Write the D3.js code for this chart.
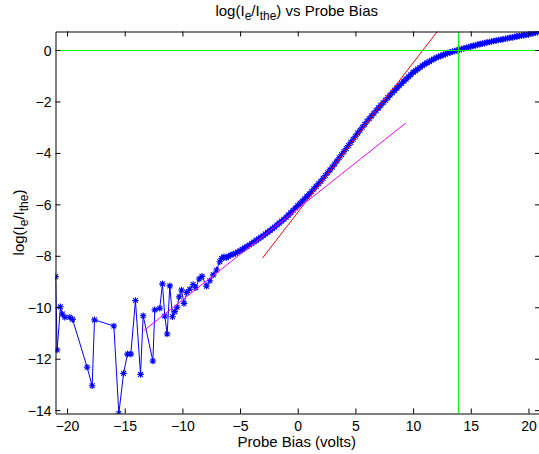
<!DOCTYPE html>
<html>
<head>
<meta charset="utf-8">
<script src="https://cdn.jsdelivr.net/npm/d3@7/dist/d3.min.js"></script>
<style>
  html, body { margin: 0; padding: 0; background: #fff; }
  svg { display: block; font-family: "Liberation Sans", Arial, sans-serif; }
</style>
</head>
<body>
<svg id="chart" width="539" height="454"></svg>
<script>
// ---- data ----
const biasVolts = [
  -21.0,-20.86,-20.57,-20.4,-20.19,-19.76,-19.52,-18.26,-17.82,-17.62,-15.94,-15.51,-15.1,-14.76,-14.47,-14.07,-13.63,-13.4,-12.56,-12.39,-11.96,-11.73,-11.53,-11.32,-11.09,-10.86,-10.66,-10.46,-10.28,-10.08,-9.86,-9.62,-9.36,-9.07,-8.84,-8.55,-8.3,-7.91,-7.62,-7.33,-7.04,-6.76,
  -6.6,-6.4,-6.2,-6.0,-5.8,-5.6,-5.4,-5.2,-5.0,-4.8,-4.6,-4.4,-4.2,-4.0,-3.8,-3.6,-3.4,-3.2,-3.0,-2.8,-2.6,-2.4,-2.2,-2.0,-1.8,-1.6,-1.4,-1.2,-1.0,-0.8,-0.6,-0.4,-0.2,0.0,
  0.2,0.4,0.6,0.8,1.0,1.2,1.4,1.6,1.8,2.0,2.2,2.4,2.6,2.8,3.0,3.2,3.4,3.6,3.8,4.0,4.2,4.4,4.6,4.8,5.0,5.2,5.4,5.6,5.8,6.0,6.2,6.4,6.6,6.8,7.0,7.2,7.4,7.6,7.8,8.0,8.2,8.4,8.6,8.8,9.0,9.2,9.4,9.6,9.8,10.0,
  10.2,10.4,10.6,10.8,11.0,11.2,11.4,11.6,11.8,12.0,12.2,12.4,12.6,12.8,13.0,13.2,13.4,13.6,13.8,14.0,14.2,14.4,14.6,14.8,15.0,15.2,15.4,15.6,15.8,16.0,16.2,16.4,16.6,16.8,17.0,17.2,17.4,17.6,17.8,18.0,18.2,18.4,18.6,18.8,19.0,19.2,19.4,19.6,19.8,20.0,20.2,20.4,20.6,20.8,21.0
];
const logRatio = [
  -8.81,-11.66,-9.98,-10.26,-10.39,-10.39,-10.47,-12.33,-13.05,-10.49,-10.73,-14.13,-12.57,-11.82,-11.82,-9.74,-12.61,-10.33,-12.09,-10.1,-10.04,-9.09,-10.34,-11.04,-9.17,-10.37,-10.17,-10.0,-9.59,-9.33,-9.85,-9.42,-9.3,-9.12,-9.24,-8.9,-8.8,-9.18,-8.97,-8.74,-8.55,-8.23,
  -8.10,-8.04,-8.07,-8.02,-7.97,-7.94,-7.90,-7.85,-7.80,-7.75,-7.69,-7.64,-7.58,-7.52,-7.46,-7.40,-7.34,-7.28,-7.22,-7.15,-7.08,-7.02,-6.95,-6.88,-6.80,-6.73,-6.65,-6.58,-6.50,-6.41,-6.32,-6.23,-6.14,-6.05,
  -5.96,-5.87,-5.78,-5.69,-5.60,-5.50,-5.40,-5.30,-5.20,-5.10,-4.99,-4.88,-4.77,-4.66,-4.55,-4.43,-4.31,-4.19,-4.07,-3.95,-3.83,-3.71,-3.59,-3.47,-3.35,-3.23,-3.12,-3.00,-2.89,-2.77,-2.67,-2.56,-2.46,-2.35,-2.25,-2.15,-2.05,-1.95,-1.85,-1.75,-1.66,-1.57,-1.48,-1.39,-1.30,-1.21,-1.13,-1.04,-0.96,-0.87,
  -0.81,-0.74,-0.68,-0.61,-0.55,-0.50,-0.45,-0.40,-0.35,-0.30,-0.26,-0.23,-0.19,-0.16,-0.12,-0.09,-0.07,-0.04,-0.02,0.01,0.04,0.06,0.09,0.11,0.14,0.16,0.18,0.21,0.23,0.25,0.27,0.29,0.31,0.33,0.35,0.37,0.39,0.40,0.42,0.44,0.46,0.48,0.49,0.51,0.53,0.55,0.56,0.58,0.59,0.61,0.63,0.65,0.67,0.69,0.72
];
// linear fits drawn over the data
const electronFitX = [-3.06, 12.2];
const electronFitY = [-8.09, 0.78];
const ionFitX = [-13.35, 9.36];
const ionFitY = [-10.91, -2.84];
// reference lines
const zeroLevel = 0;
const plasmaPotential = 13.92;
// tick labels
const xTicks = [-20, -15, -10, -5, 0, 5, 10, 15, 20];
const yTicks = [0, -2, -4, -6, -8, -10, -12, -14];

// ---- layout ----
const svg = d3.select("#chart");
const L = 55.5, R = 540, T = 31.5, B = 413.5;
const x = d3.scaleLinear().domain(d3.extent(biasVolts)).range([L, R]);
const y = d3.scaleLinear().domain(d3.extent(logRatio)).range([B, T]);

svg.append("defs").append("clipPath").attr("id", "clip")
  .append("rect").attr("x", L).attr("y", T).attr("width", R - L).attr("height", B - T);

const plot = svg.append("g").attr("clip-path", "url(#clip)");
const pts = biasVolts.map((v, i) => [v, logRatio[i]]);

const line = d3.line().x(d => x(d[0])).y(d => y(d[1]));
plot.append("path").datum(pts).attr("d", line)
  .attr("fill", "none").attr("stroke", "#0000ff").attr("stroke-width", 1);

const s = 3.3, d2 = 2.4;
const star = `M${-s},0H${s}M0,${-s}V${s}M${-d2},${-d2}L${d2},${d2}M${-d2},${d2}L${d2},${-d2}`;
plot.append("g").selectAll("path").data(pts).join("path")
  .attr("transform", d => `translate(${x(d[0])},${y(d[1])})`)
  .attr("d", star).attr("fill", "none").attr("stroke", "#0000ff").attr("stroke-width", 1.1);

function seg(xs, ys, color) {
  plot.append("path").datum(xs.map((v, i) => [v, ys[i]])).attr("d", line)
    .attr("fill", "none").attr("stroke", color).attr("stroke-width", 1);
}
seg(electronFitX, electronFitY, "#ff0000");
seg(ionFitX, ionFitY, "#ff00ff");

plot.append("line").attr("x1", L).attr("x2", R)
  .attr("y1", Math.round(y(zeroLevel)) + 0.5).attr("y2", Math.round(y(zeroLevel)) + 0.5)
  .attr("stroke", "#00ff00").attr("stroke-width", 1);
plot.append("line").attr("y1", T).attr("y2", B)
  .attr("x1", Math.round(x(plasmaPotential)) + 0.5).attr("x2", Math.round(x(plasmaPotential)) + 0.5)
  .attr("stroke", "#00ff00").attr("stroke-width", 1);

// ---- axes ----
const fmt = v => (v < 0 ? "\u2212" + Math.abs(v) : String(v));
const tl = 5;
const gx = svg.append("g").attr("transform", `translate(0,${B})`)
  .call(d3.axisBottom(x).tickValues(xTicks).tickFormat(fmt).tickSizeInner(-tl).tickSizeOuter(0).tickPadding(8));
const gxt = svg.append("g").attr("transform", `translate(0,${T})`)
  .call(d3.axisTop(x).tickValues(xTicks).tickFormat("").tickSizeInner(-tl).tickSizeOuter(0));
const gy = svg.append("g").attr("transform", `translate(${L},0)`)
  .call(d3.axisLeft(y).tickValues(yTicks).tickFormat(fmt).tickSizeInner(-tl).tickSizeOuter(0).tickPadding(4));
const gyr = svg.append("g").attr("transform", `translate(${R},0)`)
  .call(d3.axisRight(y).tickValues(yTicks).tickFormat("").tickSizeInner(-tl).tickSizeOuter(0));

[gx, gxt, gy, gyr].forEach(g => {
  g.select(".domain").attr("stroke", "#000").attr("stroke-width", 1);
  g.selectAll(".tick line").attr("stroke", "#000");
  g.selectAll("text").attr("font-size", 14).attr("fill", "#000")
    .attr("font-family", '"Liberation Sans", Arial, sans-serif');
});
gy.selectAll("text").attr("dy", "0.36em");

// ---- titles ----
const title = svg.append("text").attr("x", (L + R) / 2 - 1).attr("y", 16)
  .attr("text-anchor", "middle").attr("font-size", 15).attr("fill", "#000");
title.append("tspan").text("log(I");
title.append("tspan").attr("font-size", 12).attr("dy", 4).text("e");
title.append("tspan").attr("dy", -4).text("/I");
title.append("tspan").attr("font-size", 12).attr("dy", 4).text("the");
title.append("tspan").attr("dy", -4).text(") vs Probe Bias");

svg.append("text").attr("x", (L + R) / 2 - 1).attr("y", 447)
  .attr("text-anchor", "middle").attr("font-size", 15).attr("fill", "#000")
  .text("Probe Bias (volts)");

const yl = svg.append("text")
  .attr("transform", `translate(24,${(T + B) / 2}) rotate(-90)`)
  .attr("text-anchor", "middle").attr("font-size", 15).attr("fill", "#000");
yl.append("tspan").text("log(I");
yl.append("tspan").attr("font-size", 12).attr("dy", 4).text("e");
yl.append("tspan").attr("dy", -4).text("/I");
yl.append("tspan").attr("font-size", 12).attr("dy", 4).text("the");
yl.append("tspan").attr("dy", -4).text(")");
</script>
</body>
</html>
